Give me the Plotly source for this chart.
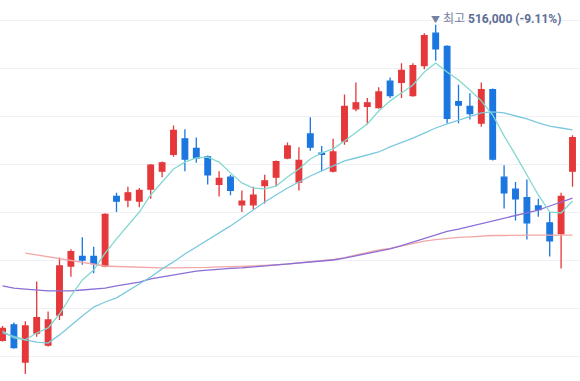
import plotly.graph_objects as go

# ---- data (KRW) ----
idx = list(range(51))
open_ = [384500, 391000, 375500, 387500, 382500, 395000, 415500, 419500, 419500, 415500,
         444500, 443000, 442500, 447500, 455000, 462000, 468500, 464500, 461000, 449500,
         452500, 441000, 441000, 449000, 452500, 460500, 450500, 470500, 462500, 455000,
         467500, 481000, 482000, 481500, 492500, 492000, 486500, 499000, 512500, 507000,
         484000, 482000, 475000, 489000, 452500, 447500, 444000, 440500, 433500, 429000,
         455000]
high = [390500, 392000, 392500, 409000, 396500, 419000, 422500, 427500, 423500, 437500,
        446000, 448500, 448000, 458000, 459000, 474000, 472500, 469000, 461500, 455000,
        453500, 447000, 448500, 453500, 459500, 467000, 465000, 477500, 465500, 468500,
        487000, 492000, 485500, 490000, 494000, 500000, 500000, 512500, 516000, 507500,
        491000, 487500, 492000, 489500, 457500, 450500, 451500, 443500, 438000, 446000,
        470000]
low = [384000, 381000, 370500, 386000, 382000, 393000, 411000, 416000, 412500, 415000,
       438000, 440000, 440000, 443500, 452500, 461000, 455000, 458500, 449500, 444500,
       445000, 438000, 439000, 441500, 448500, 460000, 447000, 463500, 455000, 454500,
       466000, 480000, 474500, 481000, 485500, 485500, 486000, 497500, 501000, 475000,
       475000, 476500, 473500, 459500, 439500, 434500, 426500, 436000, 419500, 414500,
       448500]
close = [389500, 381500, 390500, 394000, 393000, 415500, 421500, 418000, 416500, 437000,
         442500, 446000, 447000, 457500, 458500, 472000, 460000, 460500, 453500, 452000,
         447000, 442500, 445000, 451000, 459000, 465500, 459500, 465000, 462000, 463000,
         482000, 483500, 483500, 488000, 486500, 497000, 499000, 511500, 506000, 477000,
         482500, 479000, 489000, 460000, 446000, 443500, 433500, 439000, 426000, 444500,
         469000]

ma5 = [388400, 385500, 384700, 387600, 389700, 395500, 403000, 409700, 413800, 420900,
       426800, 432600, 438000, 445100, 450500, 455900, 458800, 460500, 460900, 458800,
       454300, 450100, 448000, 447600, 448800, 452600, 455900, 460100, 462600, 464300,
       467600, 471300, 474700, 480100, 484300, 487600, 490900, 496300, 500100, 496300,
       493000, 488800, 484300, 478400, 469700, 461800, 453400, 445100, 438000, 437600,
       442600]
ma20 = [387600, 386300, 384700, 383800, 383400, 386800, 390900, 394700, 398400, 400500,
        402200, 405100, 408000, 410900, 414300, 417200, 420500, 423400, 426300, 429300,
        432200, 435500, 438800, 442200, 445100, 448000, 450500, 453000, 455100, 457200,
        459300, 460500, 461800, 463000, 465100, 466800, 468800, 470900, 473000, 474700,
        476300, 477600, 479300, 479700, 479300, 478000, 476800, 475100, 473800, 473000,
        472200]
ma60 = [407200, 406300, 405900, 405500, 405100, 405100, 405100, 405500, 405900, 406300,
        407200, 408000, 408800, 410100, 410900, 411800, 412600, 413400, 413800, 414300,
        414500, 414700, 415100, 415500, 415900, 416300, 416800, 417200, 417600, 418000,
        418800, 419700, 420900, 421800, 422600, 424000, 425500, 427000, 428400, 429900,
        430900, 432000, 433200, 434300, 435300, 436300, 437600, 438800, 440500, 442200,
        443800]
ma120 = [None, None, 420900, 420100, 419300, 418400, 417600, 416800, 416100, 415500,
         415300, 415100, 414900, 414700, 414700, 414700, 414700, 414700, 414900, 415100,
         415100, 415300, 415500, 415700, 415900, 416300, 416800, 417200, 417600, 418200,
         419000, 420100, 421300, 422200, 422800, 423800, 425100, 425900, 426500, 427000,
         427400, 427600, 428000, 428200, 428200, 428400, 428400, 428400, 428400, 428400,
         428400]

grid_vals = [518000, 498000, 478000, 458000, 438000, 418000, 398000, 378000]
peak_price = 516000
peak_idx = 38
last_close = 469000
pct = (last_close - peak_price) / peak_price * 100

RED = "#e5383b"
BLUE = "#1b76e0"

fig = go.Figure()

fig.add_trace(go.Scatter(x=idx, y=ma120, mode="lines",
                         line=dict(color="#f2a7a7", width=1.3), hoverinfo="skip"))
fig.add_trace(go.Scatter(x=idx, y=ma60, mode="lines",
                         line=dict(color="#8b6fd6", width=1.3), hoverinfo="skip"))
fig.add_trace(go.Scatter(x=idx, y=ma20, mode="lines",
                         line=dict(color="#7cc9df", width=1.3), hoverinfo="skip"))
fig.add_trace(go.Scatter(x=idx, y=ma5, mode="lines",
                         line=dict(color="#84d8d0", width=1.3), hoverinfo="skip"))

fig.add_trace(go.Candlestick(
    x=idx, open=open_, high=high, low=low, close=close,
    increasing=dict(line=dict(color=RED, width=1.3), fillcolor=RED),
    decreasing=dict(line=dict(color=BLUE, width=1.3), fillcolor=BLUE),
    whiskerwidth=0,
))

fig.add_annotation(
    x=peak_idx, y=peak_price, xref="x", yref="y",
    text=("<span style='font-size:9px'>▼</span> 최고 "
          f"<b><span style='color:#5d6e96'>{peak_price:,} ({pct:.2f}%)</span></b>"),
    showarrow=False, xanchor="left", yanchor="bottom",
    xshift=-7, yshift=-3,
    font=dict(family="Roboto, Noto Sans CJK KR, sans-serif", size=12, color="#75829f"),
)

fig.update_layout(
    width=580, height=381,
    margin=dict(l=0, r=0, t=0, b=0),
    paper_bgcolor="white", plot_bgcolor="white",
    showlegend=False,
    xaxis=dict(range=[-0.2193, 50.658], showgrid=False, zeroline=False,
               showticklabels=False, rangeslider=dict(visible=False), fixedrange=True),
    yaxis=dict(range=[367583, 526333], tickvals=grid_vals, showticklabels=False,
               showgrid=True, gridcolor="#eef0f4", gridwidth=1, zeroline=False,
               fixedrange=True),
)

fig.write_html("out.html", config={"displayModeBar": False},
               post_script="document.body.style.margin='0';")
